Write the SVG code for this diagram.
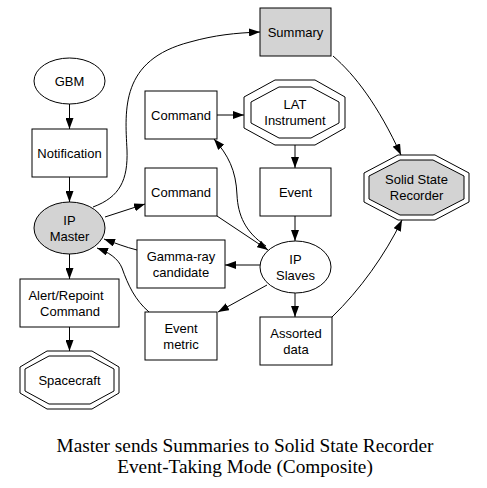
<svg xmlns="http://www.w3.org/2000/svg" width="487" height="488" viewBox="0 0 487 488">
<style>
.n{fill:#fff;stroke:#000;stroke-width:1}
.g{fill:#d3d3d3;stroke:#000;stroke-width:1}
.t{font-family:"Liberation Sans",Arial,sans-serif;font-size:13px;fill:#000;text-anchor:middle}
.e{fill:none;stroke:#000;stroke-width:1;marker-end:url(#a)}
.ti{font-family:"Liberation Serif","Times New Roman",serif;font-size:19.3px;fill:#000;text-anchor:middle}
</style>
<defs>
<marker id="a" markerUnits="userSpaceOnUse" markerWidth="11" markerHeight="8" refX="11" refY="4" orient="auto">
<path d="M0,0 L11,4 L0,8 z" fill="#000"/>
</marker>
</defs>
<rect width="487" height="488" fill="#fff"/>
<g id="edges">
<path class="e" d="M69.5,104 L69.5,129"/>
<path class="e" d="M69.5,177 L69.5,202"/>
<path class="e" d="M69.5,254 L69.5,279"/>
<path class="e" d="M69.5,327 L69.5,351"/>
<path class="e" d="M93,207 C120,197 128,180 127,150 C125,110 120,60 190,42 C215,35 235,33 260,32"/>
<path class="e" d="M105,217 L145,204"/>
<path class="e" d="M217,115 L244,115"/>
<path class="e" d="M295,145 L295,168"/>
<path class="e" d="M295,216 L295,241"/>
<path class="e" d="M295,293 L295,317"/>
<path class="e" d="M333,56 C355,75 378,105 401,155"/>
<path class="e" d="M332,317 C360,290 385,255 402,220"/>
<path class="e" d="M217,216 L268,250"/>
<path class="e" d="M266,246 C245,232 238,215 237,195 C236,170 228,155 214,139"/>
<path class="e" d="M260,265 L225,265"/>
<path class="e" d="M267,285 L218,312"/>
<path class="e" d="M137,250 C125,247 115,243 104,239"/>
<path class="e" d="M149,312 C135,300 128,285 122,268 C118,258 108,252 97,248"/>
</g>
<g id="summary"><rect class="g" x="260" y="8" width="71" height="48"/><text class="t" x="295.5" y="36.5">Summary</text></g>
<g id="gbm"><ellipse class="n" cx="69.5" cy="81" rx="35.5" ry="23"/><text class="t" x="69.5" y="85.5">GBM</text></g>
<g id="notification"><rect class="n" x="32" y="129" width="75" height="48"/><text class="t" x="69.5" y="157.5">Notification</text></g>
<g id="ipmaster"><ellipse class="g" cx="69.5" cy="228" rx="35.5" ry="26"/><text class="t" x="69.5" y="224.5">IP</text><text class="t" x="69.5" y="240.5">Master</text></g>
<g id="command1"><rect class="n" x="145" y="91" width="72" height="48"/><text class="t" x="181" y="119.5">Command</text></g>
<g id="command2"><rect class="n" x="145" y="168" width="72" height="48"/><text class="t" x="181" y="196.5">Command</text></g>
<g id="lat"><polygon class="n" points="275,80 315,80 345,97 345,128 315,145 275,145 244,128 244,97"/><polygon class="n" points="279,87 311,87 339,102 339,123 311,138 279,138 251,123 251,102"/><text class="t" x="295" y="109">LAT</text><text class="t" x="295" y="125">Instrument</text></g>
<g id="event"><rect class="n" x="260" y="168" width="71" height="48"/><text class="t" x="295.5" y="196.5">Event</text></g>
<g id="ssr"><polygon class="n" points="398,155 435,155 469,173 469,202 435,220 398,220 364,202 364,173"/><polygon class="g" points="400,160 433,160 464,176 464,199 433,215 400,215 369,199 369,176"/><text class="t" x="416.5" y="184">Solid State</text><text class="t" x="416.5" y="200">Recorder</text></g>
<g id="ipslaves"><ellipse class="n" cx="295.5" cy="267" rx="35.5" ry="26"/><text class="t" x="295.5" y="263.5">IP</text><text class="t" x="295.5" y="279.5">Slaves</text></g>
<g id="gamma"><rect class="n" x="137" y="240" width="88" height="48"/><text class="t" x="181" y="260.5">Gamma-ray</text><text class="t" x="181" y="276.5">candidate</text></g>
<g id="eventmetric"><rect class="n" x="145" y="312" width="72" height="48"/><text class="t" x="181" y="332.5">Event</text><text class="t" x="181" y="348.5">metric</text></g>
<g id="alert"><rect class="n" x="20" y="279" width="99" height="48"/><text class="t" x="66" y="299.5">Alert/Repoint</text><text class="t" x="70" y="315.5">Command</text></g>
<g id="assorted"><rect class="n" x="260" y="317" width="72" height="48"/><text class="t" x="296" y="337.5">Assorted</text><text class="t" x="296" y="353.5">data</text></g>
<g id="spacecraft"><polygon class="n" points="47,351 92,351 119,367 119,393 92,409 47,409 20,393 20,367"/><polygon class="n" points="49,356 90,356 114,369 114,391 90,404 49,404 25,391 25,369"/><text class="t" x="69.5" y="384.5">Spacecraft</text></g>
<g id="title"><text class="ti" x="245" y="451.5">Master sends Summaries to Solid State Recorder</text><text class="ti" x="245" y="472.5">Event-Taking Mode (Composite)</text></g>
</svg>
